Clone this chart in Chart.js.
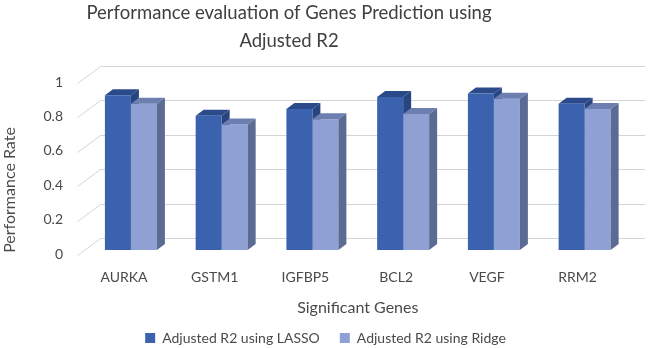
<!DOCTYPE html>
<html>
<head>
<meta charset="utf-8">
<script src="https://cdn.jsdelivr.net/npm/chart.js@4.4.1/dist/chart.umd.min.js"></script>
<style>
  html, body { margin: 0; padding: 0; background: #fff; }
  canvas { display: block; }
</style>
</head>
<body>
<canvas id="genesChart" width="650" height="348"></canvas>
<script>
// =====================================================
//  Data
// =====================================================
const genes = ['AURKA', 'GSTM1', 'IGFBP5', 'BCL2', 'VEGF', 'RRM2'];
const lassoValues = [0.90, 0.78, 0.82, 0.89, 0.91, 0.85];
const ridgeValues = [0.85, 0.73, 0.76, 0.79, 0.88, 0.82];
const yTickValues = [0, 0.2, 0.4, 0.6, 0.8, 1];
const seriesNames = ['Adjusted R2 using LASSO', 'Adjusted R2 using Ridge'];
const chartTitle = ['Performance evaluation of Genes Prediction using', 'Adjusted R2'];
const xTitle = 'Significant Genes';
const yTitle = 'Performance Rate';

// --- colours: front / top / side of each bar ---
const faceColors = [
    { front: '#3A62AE', top: '#2B4A8A', side: '#284580' },
    { front: '#8FA1D4', top: '#6D7FB0', side: '#5C6B94' }
];
const gridColor = '#D4D4D4';
const textColor = '#4A4A4A';

// bar depth and back wall offset (the fake 3d look)
const DEPTH_X = 8, DEPTH_Y = 6;
const WALL_X = 15, WALL_Y = 12;

Chart.defaults.font.family = 'Lato';
Chart.defaults.color = textColor;

function drawFaces(ctx, bar, colors) {
    const left = bar.x - bar.width / 2;
    const right = bar.x + bar.width / 2;
    const top = bar.y;
    const base = bar.base;

    // top face
    ctx.fillStyle = colors.top;
    ctx.beginPath();
    ctx.moveTo(left, top);
    ctx.lineTo(left + DEPTH_X, top - DEPTH_Y);
    ctx.lineTo(right + DEPTH_X, top - DEPTH_Y);
    ctx.lineTo(right, top);
    ctx.closePath();
    ctx.fill();

    // right side face
    ctx.fillStyle = colors.side;
    ctx.beginPath();
    ctx.moveTo(right, top);
    ctx.lineTo(right + DEPTH_X, top - DEPTH_Y);
    ctx.lineTo(right + DEPTH_X, base - DEPTH_Y);
    ctx.lineTo(right, base);
    ctx.closePath();
    ctx.fill();
}

const bars3d = {
    id: 'bars3d',
    beforeDraw(chart) {
        const { ctx, chartArea, scales: { y } } = chart;
        ctx.save();
        // grid lines on the back wall + the slanted part on the left wall
        ctx.setLineDash([]);
        ctx.strokeStyle = gridColor;
        ctx.lineWidth = 1;
        yTickValues.forEach(v => {
            const py = Math.round(y.getPixelForValue(v)) + 0.5;
            ctx.beginPath();
            ctx.moveTo(chartArea.left - 8, py + 5);
            ctx.lineTo(chartArea.left + WALL_X, py - WALL_Y);
            ctx.lineTo(chartArea.right + WALL_X, py - WALL_Y);
            ctx.stroke();
        });
        ctx.restore();
    },
    beforeDatasetsDraw(chart) {
        // faces of the first series sit behind the second series fronts
        const { ctx } = chart;
        ctx.save();
        chart.getDatasetMeta(0).data.forEach(bar => drawFaces(ctx, bar, faceColors[0]));
        ctx.restore();
    },
    afterDatasetsDraw(chart) {
        const { ctx } = chart;
        ctx.save();
        chart.getDatasetMeta(1).data.forEach(bar => drawFaces(ctx, bar, faceColors[1]));
        ctx.restore();
    },
    afterDraw(chart) {
        const { ctx } = chart;
        ctx.save();
        ctx.fillStyle = '#404040';
        ctx.textAlign = 'center';
        ctx.textBaseline = 'alphabetic';

        // chart title (it is not centred on the canvas in the original)
        ctx.font = '18.5px Lato';
        ctx.fillText(chartTitle[0], 289, 19);
        ctx.fillText(chartTitle[1], 289, 47);

        // y axis title, sits lower than the axis centre
        ctx.fillStyle = textColor;
        ctx.translate(10, 190);
        ctx.rotate(-Math.PI / 2);
        ctx.font = '16px Lato';
        ctx.textBaseline = 'middle';
        ctx.fillText(yTitle, 0, 0);
        ctx.restore();
    }
};

const ctx = document.getElementById('genesChart').getContext('2d');
new Chart(ctx, {
    type: 'bar',
    data: {
        labels: genes,
        datasets: [
            { label: seriesNames[0], data: lassoValues, backgroundColor: faceColors[0].front, borderWidth: 0 },
            { label: seriesNames[1], data: ridgeValues, backgroundColor: faceColors[1].front, borderWidth: 0 }
        ]
    },
    options: {
        responsive: false,
        animation: false,
        layout: { padding: { left: 21, right: 20, top: 78, bottom: -7 } },
        datasets: {
            bar: { categoryPercentage: 0.573, barPercentage: 1 }
        },
        plugins: {
            title: { display: false },
            legend: {
                position: 'bottom',
                labels: {
                    boxWidth: 10,
                    boxHeight: 10,
                    padding: 20,
                    color: textColor,
                    font: { size: 14 }
                }
            },
            tooltip: { enabled: false }
        },
        scales: {
            x: {
                grid: { display: false, drawTicks: false },
                border: { display: false },
                ticks: { padding: 18.6, labelOffset: -7, font: { size: 14 }, color: textColor },
                title: {
                    display: true,
                    text: xTitle,
                    color: textColor,
                    font: { size: 16, lineHeight: 1.125 },
                    padding: { top: -5, bottom: -6 }
                }
            },
            y: {
                min: 0,
                max: 1,
                afterBuildTicks: scale => { scale.ticks = yTickValues.map(v => ({ value: v })); },
                grid: { display: false, drawTicks: false },
                border: { display: false },
                ticks: {
                    padding: 22.5,
                    labelOffset: 4,
                    font: { size: 14 },
                    color: textColor,
                    callback: v => String(v)
                }
            }
        }
    },
    plugins: [bars3d]
});
</script>
</body>
</html>
